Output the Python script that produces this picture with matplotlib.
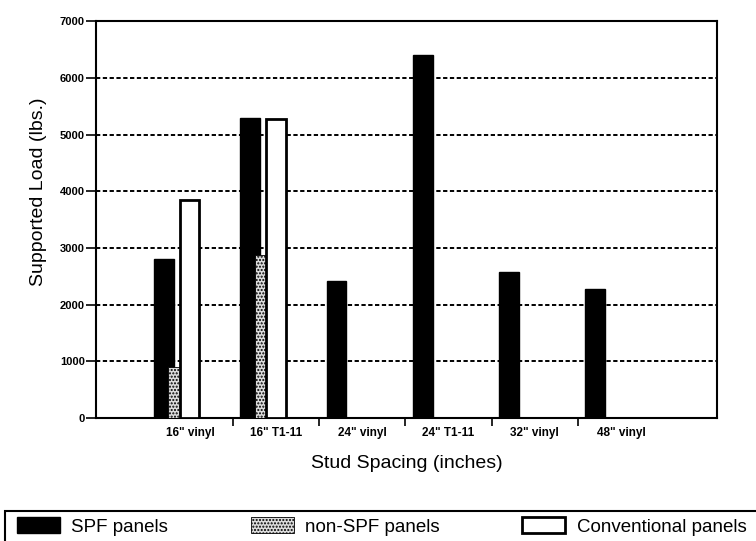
import matplotlib
matplotlib.use('Agg')
import matplotlib.pyplot as plt
import numpy as np
from matplotlib.ticker import FixedLocator
from matplotlib.patches import Rectangle

plt.rcParams['font.family'] = ['Liberation Sans', 'DejaVu Sans']

# data
categories = ['16" vinyl', '16" T1-11', '24" vinyl', '24" T1-11', '32" vinyl', '48" vinyl']
spf = [2800, 5300, 2420, 6400, 2570, 2280]
non_spf = [900, 2870, 0, 0, 0, 0]
conventional = [3850, 5280, 0, 0, 0, 0]
y_ticks = [0, 1000, 2000, 3000, 4000, 5000, 6000, 7000]

fig = plt.figure(figsize=(7.56, 5.41), dpi=100)
ax = fig.add_axes([0.127, 0.227, 0.821, 0.734])

x = np.arange(len(categories))

# overlapping bars, black first then stipple then open
b1 = ax.bar(x - 0.30, spf, width=0.23, color='black', edgecolor='black', zorder=3,
            label='SPF panels')
mask = np.array(non_spf) > 0
b2 = ax.bar(x[mask] - 0.17, np.array(non_spf)[mask], width=0.16, color='#dcdcdc',
            edgecolor='black', hatch='.....', linewidth=0.6, zorder=4, label='non-SPF panels')
mask = np.array(conventional) > 0
b3 = ax.bar(x[mask] - 0.005, np.array(conventional)[mask], width=0.23, color='white',
            edgecolor='black', linewidth=2, zorder=5, label='Conventional panels')

ax.set_xlim(-1.09, 6.11)
ax.set_ylim(0, 7000)
ax.set_yticks(y_ticks)
ax.set_yticklabels([str(v) for v in y_ticks], fontsize=8, fontweight='bold')
ax.set_xticks(x)
ax.set_xticklabels(categories, fontsize=8.5, fontweight='bold')
ax.tick_params(axis='x', which='major', length=0, pad=6)
ax.xaxis.set_minor_locator(FixedLocator(x[:-1] + 0.5))
ax.tick_params(axis='x', which='minor', length=6, width=1.2, direction='out')
ax.tick_params(axis='y', length=7, width=1.2, direction='out', pad=1)

for v in y_ticks[1:-1]:
    ax.axhline(v, color='black', linestyle=(0, (2.2, 1.3)), linewidth=1.4, zorder=1)

for s in ax.spines.values():
    s.set_linewidth(1.5)

ax.set_xlabel('Stud Spacing (inches)', fontsize=14, va='top')
ax.xaxis.set_label_coords(0.5, -0.092)
ax.set_ylabel('Supported Load (lbs.)', fontsize=14)
ax.yaxis.set_label_coords(-0.079, 0.57)

# legend box sits below the chart and runs off the page edge
fig.add_artist(Rectangle((5 / 756, -4 / 541), 760 / 756, 34 / 541,
                         transform=fig.transFigure, facecolor='none',
                         edgecolor='black', linewidth=1.5, clip_on=False))
leg = fig.legend(handles=[b1, b2, b3], loc='upper left', ncol=3,
                 bbox_to_anchor=(17 / 756, 1 - 517 / 541),
                 fontsize=13.5, frameon=False,
                 handlelength=2.3, handleheight=0.95, handletextpad=0.6,
                 columnspacing=4.4, borderpad=0, borderaxespad=0)

fig.savefig('out.png', dpi=100)
